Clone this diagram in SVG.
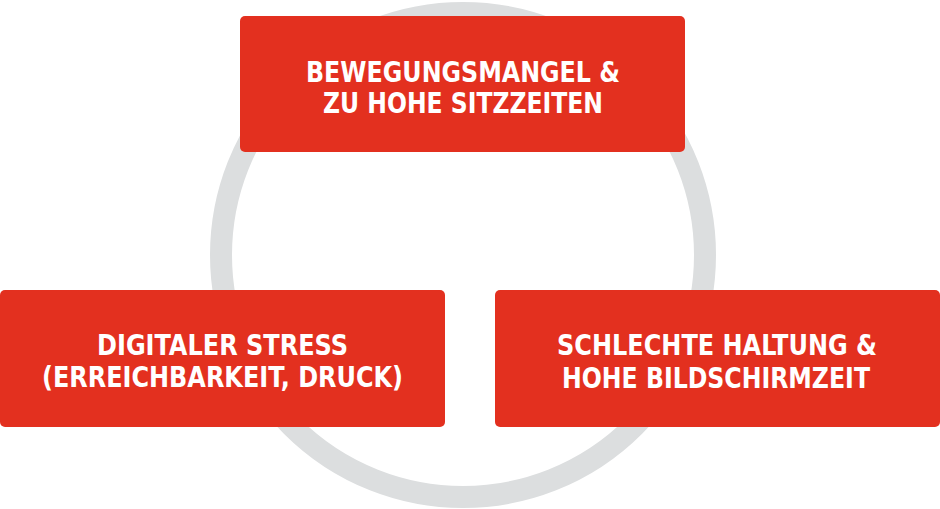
<svg xmlns="http://www.w3.org/2000/svg" width="940" height="509" viewBox="0 0 940 509">
<style>
.box{fill:#e3301f;}
.lbl{fill:#ffffff;font-family:"DejaVu Sans Condensed","DejaVu Sans",sans-serif;font-stretch:condensed;font-weight:bold;font-size:29px;text-anchor:middle;}
</style>
<rect width="940" height="509" fill="#ffffff"/>
<g id="connectors">
<circle cx="463" cy="255" r="242" fill="none" stroke="#dcdedf" stroke-width="22"/>
</g>
<g id="node-top">
<rect class="box" x="240" y="16" width="445" height="136" rx="5"/>
<text class="lbl" x="463" y="82" textLength="314" lengthAdjust="spacingAndGlyphs">BEWEGUNGSMANGEL &amp;</text>
<text class="lbl" x="463" y="113" textLength="280" lengthAdjust="spacingAndGlyphs">ZU HOHE SITZZEITEN</text>
</g>
<g id="node-left">
<rect class="box" x="0" y="290" width="445" height="137" rx="5"/>
<text class="lbl" x="222.5" y="355" textLength="251" lengthAdjust="spacingAndGlyphs">DIGITALER STRESS</text>
<text class="lbl" x="222.5" y="387" textLength="361" lengthAdjust="spacingAndGlyphs">(ERREICHBARKEIT, DRUCK)</text>
</g>
<g id="node-right">
<rect class="box" x="495" y="290" width="445" height="137" rx="5"/>
<text class="lbl" x="717" y="355" textLength="320" lengthAdjust="spacingAndGlyphs">SCHLECHTE HALTUNG &amp;</text>
<text class="lbl" x="716" y="388" textLength="308" lengthAdjust="spacingAndGlyphs">HOHE BILDSCHIRMZEIT</text>
</g>
</svg>
